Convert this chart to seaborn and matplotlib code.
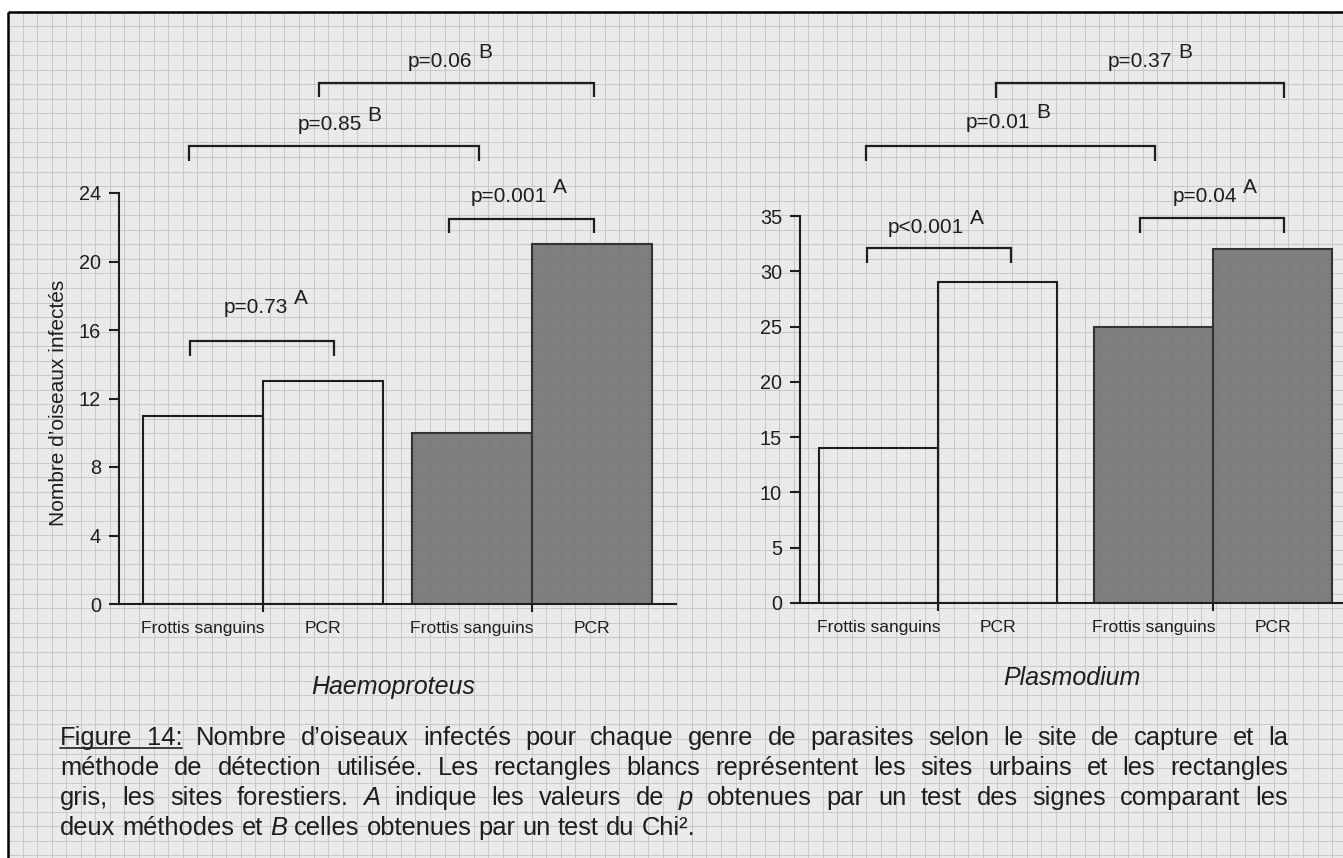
import numpy as np
import pandas as pd
import matplotlib
matplotlib.use("Agg")
import matplotlib.pyplot as plt
from matplotlib.patches import Rectangle
import seaborn as sns

# ---------------- data ----------------
sites = ["Urbain", "Forestier"]
methods = ["Frottis sanguins", "PCR"]
haemo_urbain = [11, 13]
haemo_forest = [10, 21]
plasmo_urbain = [14, 29]
plasmo_forest = [25, 32]
haemo_yticks = [0, 4, 8, 12, 16, 20, 24]
plasmo_yticks = [0, 5, 10, 15, 20, 25, 30, 35]
genera = ["Haemoproteus", "Plasmodium"]
ylabel = "Nombre d’oiseaux infectés"
haemo_tests = [("p=0.73", "A"), ("p=0.001", "A"), ("p=0.85", "B"), ("p=0.06", "B")]
plasmo_tests = [("p<0.001", "A"), ("p=0.04", "A"), ("p=0.01", "B"), ("p=0.37", "B")]

caption_lines = [
    [("Figure 14:", "u"), ("Nombre d’oiseaux infectés pour chaque genre de parasites selon le site de capture et la", "n")],
    [("méthode de détection utilisée. Les rectangles blancs représentent les sites urbains et les rectangles", "n")],
    [("gris, les sites forestiers.", "n"), ("A", "i"), ("indique les valeurs de", "n"), ("p", "i"),
     ("obtenues par un test des signes comparant les", "n")],
    [("deux méthodes et", "n"), ("B", "i"), ("celles obtenues par un test du Chi².", "n")],
]

# ---------------- layout (annotation positions, data units) ----------------
# (x_left, x_right, y_bar, y_leg), (x_text, y_text)
haemo_brackets = [(-0.271, 0.264, 15.35, 14.5), (0.691, 1.230, 22.5, 21.66),
                  (-0.275, 0.803, 26.74, 25.86), (0.208, 1.230, 30.41, 29.6)]
haemo_textpos = [(-0.026, 17.3), (0.915, 23.8), (0.249, 28.0), (0.658, 31.7)]
plasmo_brackets = [(-0.258, 0.265, 32.1, 30.74), (0.735, 1.258, 34.81, 33.45),
                   (-0.262, 0.789, 41.32, 39.96), (0.211, 1.258, 47.02, 45.66)]
plasmo_textpos = [(-0.044, 34.0), (0.971, 36.8), (0.218, 43.5), (0.735, 49.0)]

BG = "#eaeaea"
GRID = "#c9c9c9"
INK = "#1e1e1e"
GRAY = (0.45, 0.45, 0.45, 0.90)

sns.set_style("ticks")
plt.rcParams["font.family"] = ["Liberation Sans", "DejaVu Sans"]

W, H = 1343, 858
fig = plt.figure(figsize=(W / 100, H / 100), dpi=100)
fig.patch.set_facecolor("white")

# background "graph paper"
bg = fig.add_axes([0, 0, 1, 1])
bg.set_xlim(0, W)
bg.set_ylim(H, 0)
bg.axis("off")
bg.set_zorder(0)
bg.add_patch(Rectangle((8, 11.5), W - 8, H - 11.5, facecolor=BG, edgecolor="none", zorder=0))
step = 14.55
bg.vlines(np.arange(8, W, step), 11.5, H, color=GRID, lw=0.75, zorder=1)
bg.hlines(np.arange(11.5, H, step), 8, W, color=GRID, lw=0.75, zorder=1)
bg.plot([8, W], [11.5, 11.5], color="black", lw=1.8, solid_capstyle="butt", zorder=3)
bg.plot([8, 8], [11.5, H], color="black", lw=1.8, solid_capstyle="butt", zorder=3)


def px_axes(x0, x1, ytop, ybot):
    return fig.add_axes([x0 / W, 1 - ybot / H, (x1 - x0) / W, (ybot - ytop) / H])


def draw_panel(ax, urb, forest, yticks, width, xlim, tests, brackets, textpos):
    df = pd.DataFrame({
        "site": np.repeat(sites, len(methods)),
        "method": methods * len(sites),
        "value": list(urb) + list(forest),
    })
    sns.barplot(data=df, x="site", y="value", hue="method", order=sites, hue_order=methods,
                width=width, gap=0, palette=["white", "white"], errorbar=None,
                legend=False, ax=ax, linewidth=1.5, edgecolor=INK)
    centers = []
    for p in ax.patches:
        cx = p.get_x() + p.get_width() / 2
        centers.append(cx)
        if cx > 0.5:
            p.set_facecolor(GRAY)
            p.set_edgecolor("#333333")
        else:
            p.set_facecolor((1, 1, 1, 0))
            p.set_edgecolor(INK)
    centers = sorted(centers)
    ax.set_facecolor("none")
    ax.set_zorder(2)
    ax.set_xlim(*xlim)
    ax.set_ylim(yticks[0], yticks[-1])
    ax.set_yticks(yticks)
    ax.set_yticklabels([str(v) for v in yticks])
    ax.set_xticks([0, 1])
    ax.set_xticklabels(["", ""])
    ax.set_xticks(centers, minor=True)
    ax.set_xticklabels(methods * len(sites), minor=True)
    ax.tick_params(axis="x", which="major", length=6, width=1.5, color=INK, direction="out")
    ax.tick_params(axis="x", which="minor", length=0, pad=12, labelsize=12.6, labelcolor=INK)
    ax.tick_params(axis="y", length=7, width=1.5, color=INK, pad=6, labelsize=14.3, labelcolor=INK)
    ax.set_xlabel("")
    ax.set_ylabel("")
    for s in ["top", "right"]:
        ax.spines[s].set_visible(False)
    for s in ["left", "bottom"]:
        ax.spines[s].set_color(INK)
        ax.spines[s].set_linewidth(1.5)
    for (label, letter), (x0, x1, yb, yl), (tx, ty) in zip(tests, brackets, textpos):
        ax.plot([x0, x0, x1, x1], [yl, yb, yb, yl], color=INK, lw=1.6, clip_on=False,
                solid_joinstyle="miter", solid_capstyle="butt")
        t = ax.text(tx, ty, label, ha="center", va="center", fontsize=15, color=INK, clip_on=False)
        ax.annotate(letter, xy=(1, 0.5), xycoords=t, xytext=(4, 6.5), textcoords="offset points",
                    ha="left", va="center", fontsize=15, color=INK, annotation_clip=False)


axL = px_axes(119, 676, 193, 604)
axR = px_axes(800, 1343, 216, 603)
draw_panel(axL, haemo_urbain, haemo_forest, haemo_yticks, 0.892, (-0.535, 1.535),
           haemo_tests, haemo_brackets, haemo_textpos)
draw_panel(axR, plasmo_urbain, plasmo_forest, plasmo_yticks, 0.866, (-0.502, 1.473),
           plasmo_tests, plasmo_brackets, plasmo_textpos)
axL.set_ylabel(ylabel, fontsize=15, color=INK)
axL.yaxis.set_label_coords((68 - 119) / 557, 0.49)

fig.text(393 / W, 1 - 687 / H, genera[0], style="italic", fontsize=18, ha="center", va="center", color=INK)
fig.text(1072 / W, 1 - 678 / H, genera[1], style="italic", fontsize=18, ha="center", va="center", color=INK)

# ---------------- caption (justified) ----------------
renderer = fig.canvas.get_renderer()
CAP_FS = 18.4
left_x, right_x = 60, 1288
baselines = [745, 775, 805, 835]
justify = [True, True, True, False]


def mk(s, style):
    return bg.text(0, 0, s, fontsize=CAP_FS, color=INK, va="baseline", ha="left",
                   style="italic" if style == "i" else "normal", zorder=4)


probe1 = mk("n n", "n")
probe2 = mk("nn", "n")
space_w = (probe1.get_window_extent(renderer).width - probe2.get_window_extent(renderer).width)
probe1.remove()
probe2.remove()

for line, yb, just in zip(caption_lines, baselines, justify):
    words = []
    for seg, style in line:
        for w in seg.split(" "):
            words.append((w, style))
    arts = [mk(w, st) for w, st in words]
    widths = [a.get_window_extent(renderer).width for a in arts]
    if just and len(arts) > 1:
        gap = (right_x - left_x - sum(widths)) / (len(arts) - 1)
    else:
        gap = space_w
    x = left_x
    ul = []
    for a, wd, (w, st) in zip(arts, widths, words):
        a.set_position((x, yb))
        if st == "u":
            ul.append((x, x + wd))
        x += wd + gap
    if ul:
        bg.plot([ul[0][0], ul[-1][1]], [yb + 3, yb + 3], color=INK, lw=1.2, zorder=4)

fig.savefig("out.png", dpi=100)
